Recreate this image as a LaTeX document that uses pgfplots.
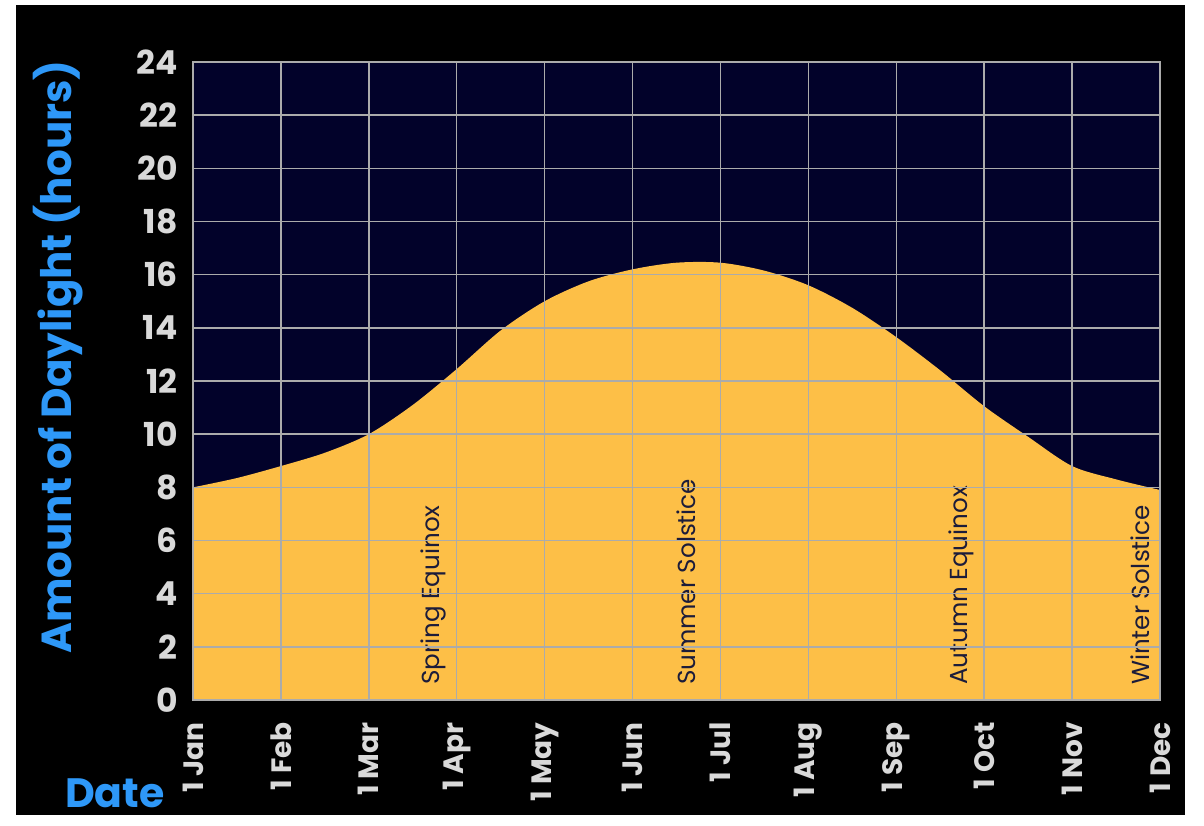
\documentclass[border=0pt]{standalone}
\usepackage{fontspec}
\setmainfont{Poppins}
\usepackage{pgfplots}
\pgfplotsset{compat=1.18}
\definecolor{navy}{HTML}{02022A}
\definecolor{sun}{HTML}{FDBF47}
\definecolor{gridgray}{HTML}{ABABAB}
\definecolor{ticklab}{HTML}{D9D9D9}
\definecolor{labblue}{HTML}{2E98F8}
\definecolor{notecol}{HTML}{1C1C3A}
\begin{document}
\begin{tikzpicture}[x=1pt,y=1pt]
\fill[white] (0,0) rectangle (602,412.5);
\fill[black] (8,5) rectangle (592.5,410);
\begin{axis}[
    at={(96.5pt,62.5pt)}, anchor=south west,
    scale only axis, width=483.5pt, height=319pt,
    xmin=0, xmax=11, ymin=0, ymax=24,
    xtick={0,...,11},
    xticklabels={1 Jan,1 Feb,1 Mar,1 Apr,1 May,1 Jun,1 Jul,1 Aug,1 Sep,1 Oct,1 Nov,1 Dec},
    ytick={0,2,...,24},
    /pgf/number format/assume math mode=true,
    ticklabel style={text=ticklab},
    xticklabel style={rotate=90, anchor=east, inner sep=0pt,
      font=\fontsize{14}{16}\selectfont\bfseries},
    xticklabel shift=11pt,
    yticklabel style={anchor=east, inner sep=0pt,
      font=\fontsize{16.5}{19}\selectfont\bfseries},
    yticklabel shift=7.5pt,
    major tick length=0pt,
    grid=major,
    major grid style={gridgray, line width=0.75pt},
    axis line style={gridgray, line width=0.75pt},
    axis background/.style={fill=navy},
    axis on top,
    xlabel={Date},
    ylabel={Amount of Daylight (hours)},
    xlabel style={at={(rel axis cs:-0.0807,-0.1458)}, anchor=center,
      font=\fontsize{20.5}{23}\selectfont\bfseries, text=labblue},
    ylabel style={at={(rel axis cs:-0.1396,0.5376)}, anchor=center, rotate=0,
      font=\fontsize{21}{24}\selectfont\bfseries, text=labblue},
  ]
  \addplot[fill=sun, draw=none, smooth, tension=0.5] coordinates {
    (0,8.0) (0.5,8.35) (1,8.8) (1.5,9.3) (2,10.0) (2.5,11.1) (3,12.45)
    (3.5,13.9) (4,15.0) (4.5,15.75) (5,16.2) (5.5,16.45) (6,16.45)
    (6.5,16.15) (7,15.6) (7.5,14.75) (8,13.65) (8.5,12.4) (9,11.05)
    (9.5,9.9) (10,8.8) (10.5,8.3) (11,7.9)
  } \closedcycle;
  \begin{scope}[every node/.style={rotate=90, anchor=west, inner sep=0pt,
      font=\fontsize{12.3}{14}\selectfont, text=notecol}]
    \node at (axis cs:2.73,0.55) {Spring Equinox};
    \node at (axis cs:5.61,0.55) {Summer Solstice};
    \node at (axis cs:8.74,0.55) {Autumn Equinox};
    \node at (axis cs:10.78,0.55) {Winter Solstice};
  \end{scope}
\end{axis}
\end{tikzpicture}
\end{document}
